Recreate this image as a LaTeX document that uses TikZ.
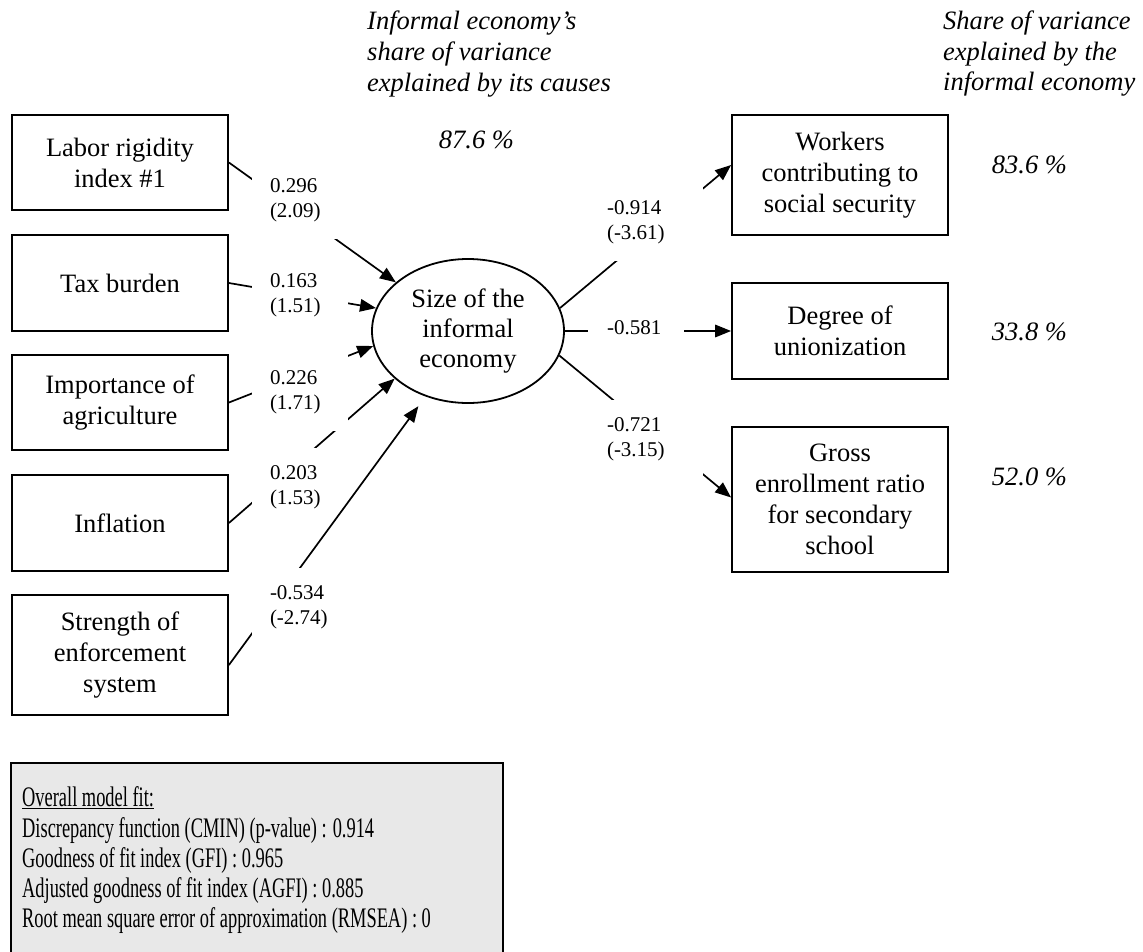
\documentclass[tikz,border=0pt]{standalone}
\usepackage{fontspec}
\setmainfont{Liberation Serif}
\newfontfamily\fitfont[FakeStretch=0.65]{Liberation Serif}
\usetikzlibrary{arrows.meta,shapes.geometric,calc}
\definecolor{fitgray}{HTML}{E8E8E8}
\begin{document}
\begin{tikzpicture}[x=1pt,y=-1pt,
  every node/.style={inner sep=0pt},
  varbox/.style={draw, line width=1.8pt, minimum width=216pt, align=center,
    font=\fontsize{26.5}{31}\selectfont},
  latent/.style={draw, ellipse, line width=1.8pt, minimum width=192pt, minimum height=144pt,
    align=center, font=\fontsize{26.5}{30}\selectfont},
  conn/.style={line width=1.7pt},
  arr/.style={conn, -{Triangle[length=16pt,width=12.5pt]}},
  coef/.style={fill=white, align=left, minimum height=78pt,
    font=\fontsize{21}{24.5}\selectfont},
  lcoef/.style={coef, text width=60pt, inner xsep=18pt},
  rcoef/.style={coef, text width=77pt, inner xsep=19pt},
  head/.style={anchor=base west, font=\fontsize{26.5}{31}\selectfont\itshape},
  share/.style={anchor=base, font=\fontsize{26.5}{31}\selectfont\itshape},
  fitline/.style={anchor=base west, font=\fitfont\fontsize{28.3}{30}\selectfont}
]
\useasboundingbox (0,0) rectangle (1143,951);

% causes
\node[varbox, minimum height=95pt] (b1) at (120,162.5) {Labor rigidity\\index \#1};
\node[varbox, minimum height=96pt] (b2) at (120,283) {Tax burden};
\node[varbox, minimum height=95pt] (b3) at (120,402.5) {Importance of\\agriculture};
\node[varbox, minimum height=96pt] (b4) at (120,523) {Inflation};
\node[varbox, minimum height=120pt] (b5) at (120,655) {Strength of\\enforcement\\system};

% latent
\node[latent] (ell) at (468,331) {Size of the\\informal\\economy};

% indicators
\node[varbox, minimum height=120pt] (w) at (840,175) {Workers\\contributing to\\social security};
\node[varbox, minimum height=96pt] (d) at (840,331) {Degree of\\unionization};
\node[varbox, minimum height=145pt] (g) at (840,499.5) {Gross\\enrollment ratio\\for secondary\\school};

% connectors
\draw[arr] (b1.east) -- (ell.146);
\draw[arr] (b2.east) -- (ell.166);
\draw[arr] (b3.east) -- (ell.189);
\draw[arr] (b4.east) -- (ell.213);
\draw[arr] (ell.14) -- ($(w.west)+(0,-10)$);
\draw[arr] (ell.east) -- (d.west);
\draw[arr] (ell.-15) -- ($(g.west)+(0,-2)$);

% coefficient labels
\node[lcoef] (l1) at (300,200) {0.296\\(2.09)};
\node[lcoef] (l2) at (300,295) {0.163\\(1.51)};
\node[lcoef] (l3) at (300,392) {0.226\\(1.71)};
\node[lcoef] (l4) at (300,487) {0.203\\(1.53)};
\node[rcoef] (r1) at (645.5,222) {-0.914\\(-3.61)};
\node[rcoef, text width=58pt] (r2) at (636,327.5) {-0.581};
\node[rcoef] (r3) at (645.5,439) {-0.721\\(-3.15)};

\draw[arr, shorten >=12pt] ($(b5.east)+(0,10)$) -- (ell.237);
\node[lcoef] (l5) at (300,607) {-0.534\\(-2.74)};

% headings
\node[head] (h1) at (367,29) {Informal economy’s};
\node[head] (h2) at (367,60) {share of variance};
\node[head] (h3) at (367,91) {explained by its causes};
\node[share] (p0) at (476.5,148) {87.6 \%};

\node[head] (k1) at (943,29) {Share of variance};
\node[head] (k2) at (943,60) {explained by the};
\node[head] (k3) at (943,90) {informal economy};
\node[share] (p1) at (1029.5,173) {83.6 \%};
\node[share] (p2) at (1029.5,340) {33.8 \%};
\node[share] (p3) at (1029.5,485) {52.0 \%};

% model fit box
\node[draw, line width=1.8pt, fill=fitgray, minimum width=492pt, minimum height=197pt] (fit) at (257,861.5) {};
\node[fitline] (f0) at (22,806) {\underline{Overall model fit:}};
\node[fitline] (f1) at (22,837) {Discrepancy function (CMIN) (p-value) : 0.914};
\node[fitline] (f2) at (22,867) {Goodness of fit index (GFI) : 0.965};
\node[fitline] (f3) at (22,897) {Adjusted goodness of fit index (AGFI) : 0.885};
\node[fitline] (f4) at (22,927) {Root mean square error of approximation (RMSEA) : 0};
\end{tikzpicture}
\end{document}
